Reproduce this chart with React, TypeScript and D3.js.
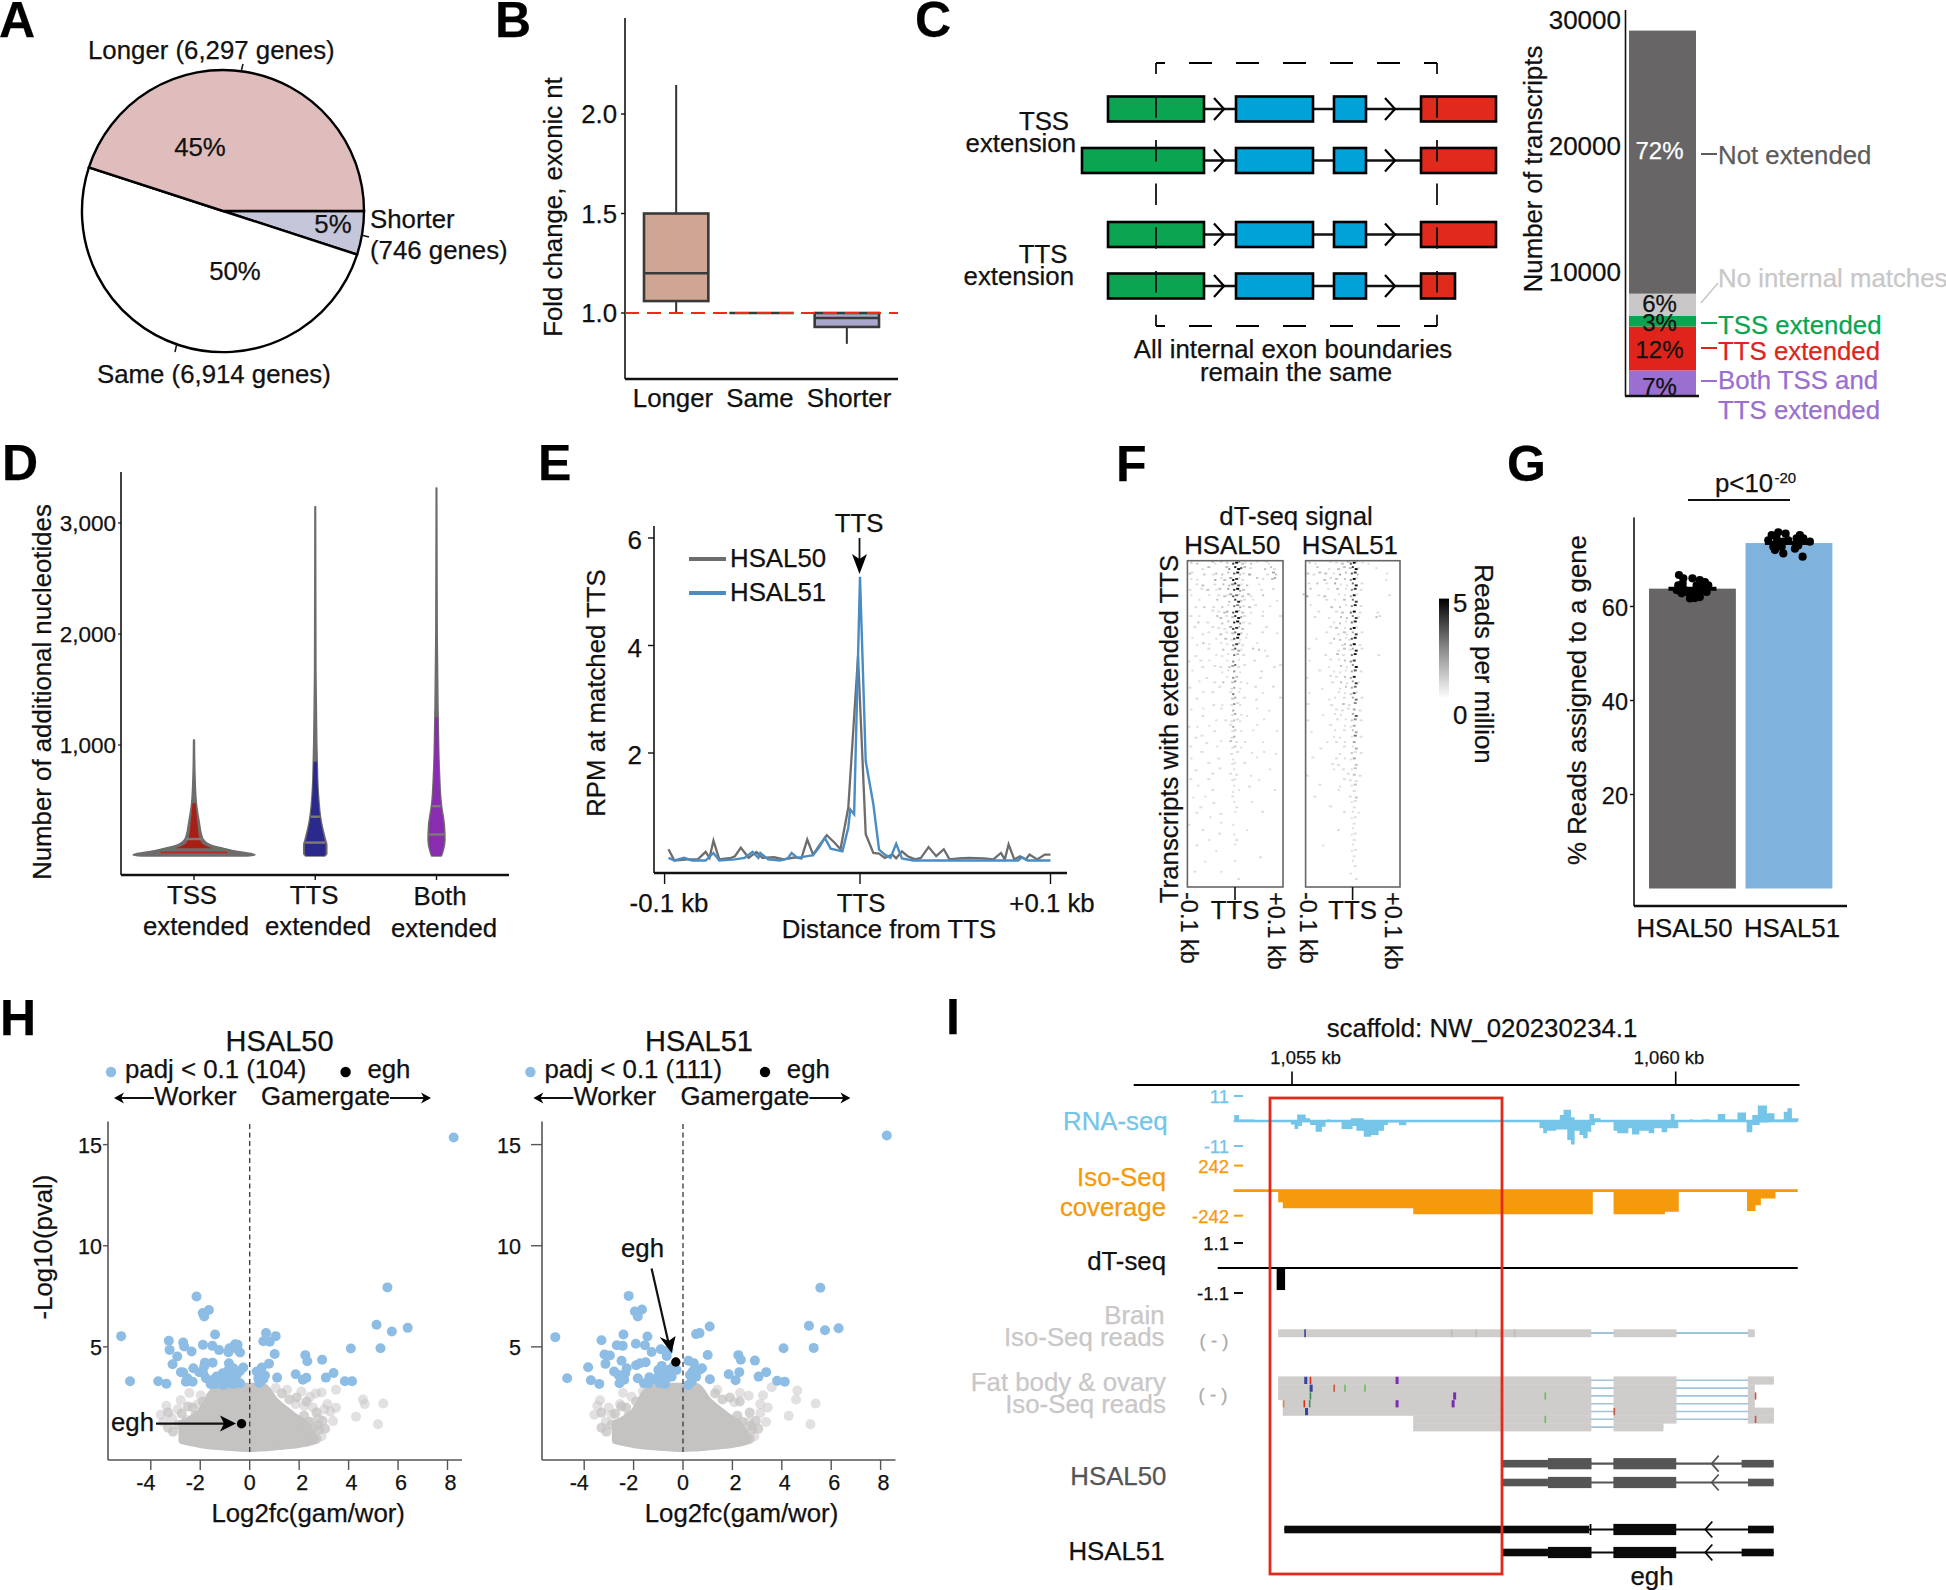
import React from 'react';
import * as d3 from 'd3';

const FONT = '"Liberation Sans", Arial, sans-serif';
const INK = '#111';
const GREY = '#676565';
const LIGHT = '#c9c7c7';
const GREEN = '#0ba552';
const BLUE = '#00a2d8';
const RED = '#df2a1c';
const PURPLE = '#9a6fcf';
const SKY = '#8dbde4';

// A: pie
const pieNames = ['Shorter', 'Same', 'Longer'];
const piePercent = [5, 50, 45];
const pieColors = ['#c6c6da', '#ffffff', '#dfbdbd'];

// B: box plot
const boxNames = ['Longer', 'Same', 'Shorter'];
const boxLow = [1.0, 1.0, 0.845];
const boxQ1 = [1.06, 1.0, 0.93];
const boxMedian = [1.2, 1.0, 0.975];
const boxQ3 = [1.5, 1.0, 1.0];
const boxHigh = [2.146, 1.0, 1.0];
const boxColors = ['#cfa593', '#8b8b8b', '#a9a8cc'];
const boxTicks = [1, 1.5, 2];

// C: exon schematic, in schematic units along the gene
const exonGreenLong = [26, 122];
const exonGreenExtended = [0, 122];
const exonBlue = [[154, 231], [252, 284]];
const exonRed = [339, 414];
const exonRedShort = [339, 373];
const schematicRows = [
  { name: 'r1', green: exonGreenLong, red: exonRed },
  { name: 'r2', green: exonGreenExtended, red: exonRed },
  { name: 'r3', green: exonGreenLong, red: exonRed },
  { name: 'r4', green: exonGreenLong, red: exonRedShort },
];
const schematicChevrons = [132, 303];

// C: stacked bar
const stackNames = ['Both', 'TTS', 'TSS', 'None', 'Not'];
const stackValues = [2030, 3480, 870, 1740, 20880];
const stackColors = [PURPLE, '#e0241b', GREEN, LIGHT, GREY];
const stackTicks = [10000, 20000, 30000];

// D: violins as value / density pairs
const violinValues = [
  [0, 10, 20, 39, 69, 100, 144, 200, 294, 475, 745, 1045],
  [0, 20, 100, 144, 310, 580, 850, 1045, 1650, 3147],
  [0, 30, 144, 280, 470, 745, 1250, 1345, 2000, 3315],
];
const violinDensity = [
  [0.85, 1, 0.95, 0.74, 0.49, 0.27, 0.16, 0.12, 0.09, 0.04, 0.016, 0.008],
  [0.16, 0.19, 0.19, 0.17, 0.1, 0.05, 0.033, 0.025, 0.012, 0.006],
  [0.08, 0.1, 0.14, 0.13, 0.08, 0.05, 0.028, 0.025, 0.012, 0.006],
];
const violinInner = [[69, 475], [0, 850], [0, 1250]];
const violinInnerScale = [0.62, 0.9, 0.9];
const violinQuartiles = [[33, 153], [121, 354], [194, 449]];
const violinFill = ['#a81f16', '#2b2a8c', '#8a2cb0'];
const violinTicks = [1000, 2000, 3000];

// E: metaplot
const gray50Bp = [-98, -95, -88, -83, -79, -77, -75, -72, -66, -64, -61, -57, -53, -50, -44, -39, -33, -30, -27, -24, -21, -17, -13, -10, -6, -1, 3, 7, 10, 13, 17, 19, 22, 25, 29, 32, 36, 40, 44, 47, 52, 57, 65, 70, 74, 76, 78, 81, 84, 87, 89, 93, 97, 100];
const gray50Rpm = [0.21, 0, 0.02, 0.02, 0.16, 0.05, 0.37, 0.02, 0.05, 0.08, 0.24, 0.05, 0.16, 0.05, 0.06, 0.02, 0.06, 0.04, 0.39, 0.11, 0.27, 0.47, 0.33, 0.21, 0.98, 3.8, 0.49, 0.14, 0.13, 0.05, 0.11, 0.04, 0.17, 0.08, 0.02, 0.05, 0.25, 0.08, 0.21, 0.02, 0.04, 0.05, 0.04, 0.02, 0.14, 0.02, 0.3, 0.02, 0.08, 0.02, 0.11, 0.02, 0.11, 0.11];
const blue51Bp = [-98, -95, -90, -86, -79, -75, -72, -64, -59, -55, -52, -51, -47, -41, -37, -35, -32, -24, -21, -18, -15, -9, -6, -5, -3, 0, 3, 7, 10, 13, 16, 19, 22, 28, 65, 83, 85, 88, 100];
const blue51Rpm = [0.05, 0, 0.05, 0, 0, 0.14, 0, 0.02, 0.05, 0.16, 0.05, 0.14, 0.02, 0, 0.04, 0.14, 0.05, 0.1, 0.24, 0.42, 0.22, 0.17, 0.61, 0.95, 0.86, 5.28, 1.85, 1.05, 0.2, 0.11, 0.05, 0.31, 0.04, 0, 0, 0, 0.06, 0, 0];
const rpmTicks = [2, 4, 6];

// F: dT-seq signal, binned by transcript row (top to bottom) and position; 0-9 intensity
const heatA = [
  '..2.2....21.2.2.79421.2.1..11...',
  '.....1.2.....24.8962.1....2.21..',
  '.21...2..12.2.2.6821.3.....1.32.',
  '..1.1.....3.12.39711....2.1..23.',
  '...1.2...1..2.24851.2...1.......',
  '.1...1.2..12..3.7932.....1...1..',
  '..1.....1..1.2136512.21...2.....',
  '....1.....2...2.7821..1.......1.',
  '...1..2..1..2.1.5431.2.1....1...',
  '.........1.1.23.6922..1...1.....',
  '.1..1.....22.1.27831.....1.....1',
  '....2..1....2.2.8941.1..........',
  '...1.....1.1.1.37722.......1....',
  '.....1.1...2.1.2592.1....1....1.',
  '..1.......1..2.1681.1...........',
  '....1.2.1...1.1.4721....1.......',
  '.......1....2..2631...2.2.1.....',
  '...1......1.1.1.52.1.......1....',
  '.1...1..1.....1.4.1....1........',
  '.....1...1.1..2351.1.........1.1',
  '..1.........1.1.4.1......1......',
  '.......1......1.42.......1......',
  '....1....1..2..24.1.1...........',
  '.1.........1...13.1....1.....1..',
  '......1..1.....15.1.......1.....',
  '...1...........23..1...1.......1',
  '.........1..1..1411.............',
  '..1...1.....1...3.......1...1...',
  '.....1.........13.1.1...........',
  '..........1..1.1211.......1.....',
  '.1..1...1......13.......1.......',
  '.........1.....12.1...1.......1.',
  '...1.1.........13...............',
  '.......1....1..2.1..1.....1.....',
  '.1........1....12.1.............',
  '.....1.........1.1....1...1...1.',
  '..1........1....1.......1.......',
  '.......1.......11..1............',
  '...1.......1....1...........1...',
  '.........1.....1.1....1.........',
  '.1.....1.......11.......1.......',
  '....1...........1....1..........',
  '.........1......1.1...........1.',
  '..1...1........1................',
  '.........1......1.....1.........',
  '.....1...........1..............',
  '...1.......1....1........1......',
  '........1.......................',
  '.1..........1...1...............',
  '.....1..............1...........',
  '...........1....1...............',
  '........1........1..............',
  '...1............1...............',
  '..........1.....................',
  '.........................1......',
  '......1.........1...............',
  '................................',
  '...1........1...................',
  '.................1..............',
  '................................',
];
const heatB = [
  '..2.1....1.1.2.2692.1.1.........',
  '....2...1..2.2.2791.....1.......',
  '.2.1.2.2..1.3.2.672.........1...',
  '.......2.1.2..2.491.........1...',
  '.1..2..1..3.1.1.58.1............',
  '..2.....1..2..1.47.1............',
  '23...1.2....1.1.381..........1..',
  '.......1..1..2..57..............',
  '..1......2..2.1.48.1............',
  '.....1.....1.2..59.1.....1......',
  '...1....1...2.2.471.....21......',
  '..........1.2.1.58..............',
  '.........1.2..1.691.............',
  '.......1...1.21.37.1............',
  '....1.....2.2.1168..............',
  '.........1...12.49.1............',
  '.1.........1.2.138.1............',
  '.......1...2.1..58.......1......',
  '..1......1..1.2.47..............',
  '........1...2.1.49..............',
  '.....1....1.1.1.36.1............',
  '.1.......1.1..2.38..............',
  '.........1..2.1.371.............',
  '......1.....1.2.35..............',
  '..1.........1.1.261.............',
  '........1.1..1..35.1............',
  '.1.......1...2.1.4..............',
  '...........1.1.1.3.1............',
  '......1...1.1...36..............',
  '.1.........1..1.24.1............',
  '.........1....1.13..............',
  '..1.......1..1..23..............',
  '..........1.1...15.1............',
  '........1..1..1..3..............',
  '.....1.......1..13..............',
  '............1...21.1............',
  '...1.......1..1.13..............',
  '.........1.1.....2..............',
  '..........1..1..12..............',
  '.1.............1.2.1............',
  '.............1.1.1..............',
  '.....1......1...12..............',
  '............1....1..............',
  '...1...........1.2..............',
  '................11..............',
  '.........1.......1..............',
  '.............1..1.1.............',
  '................11..............',
  '.................1..............',
  '...........1....1...............',
  '................11..............',
  '.................1..............',
  '......1.........1...............',
  '................11..............',
  '.................1..............',
  '................1...............',
  '.................1..............',
  '................1...............',
  '.................1..............',
  '................................',
];

// G: bars and replicates
const barNames = ['HSAL50', 'HSAL51'];
const barValues = [63.8, 73.5];
const barColors = [GREY, '#7fb2dd'];
const barTicks = [20, 40, 60];
const jitter50 = [-0.155, -0.105, -0.113, 0, 0.085, 0.144, 0.182, -0.182, -0.125, -0.067, -0.029, 0.029, 0.085, 0.163, 0.105, 0.048, -0.163, -0.105, -0.011, 0.125, 0.067];
const reads50 = [66.7, 66, 64.9, 66, 65.6, 65.2, 64.5, 63.5, 62.8, 63.1, 61.7, 61.8, 62, 63.1, 63.5, 64.5, 64.5, 63.8, 62.8, 64.2, 62.8];
const jitter51 = [-0.123, -0.038, -0.199, 0.126, -0.238, -0.142, -0.065, 0.088, 0.165, 0.241, -0.18, -0.084, -0.161, -0.065, 0.069, 0.107, 0.157, -0.008, -0.123];
const reads51 = [75.8, 75.5, 75.2, 75.2, 74.1, 74.5, 73.8, 74.5, 74.5, 73.8, 72.7, 72.7, 72, 71.3, 72.3, 73, 70.6, 74.1, 73.4];

// H: volcano plots, [log2fc, -log10 p]
const volcano50Blue = [
  [-5.2, 5.53], [-4.84, 3.3], [-3.7, 3.3], [-3.37, 3.18], [-3.27, 5.3], [-3.24, 4.85], [-2.93, 4.52], [-3.12, 4.14], [-2.69, 5.21], [-2.65, 5.02],
  [-2.35, 4.77], [-2.78, 3.75], [-2.69, 3.73], [-2.58, 3.28], [-2.52, 3.45], [-2.31, 3.28], [-2.28, 3.94], [-2.04, 3.75], [-2.15, 7.49], [-1.9, 6.67],
  [-1.65, 6.82], [-1.84, 6.5], [-1.4, 5.61], [-1.89, 5.1], [-1.51, 5.05], [-1.24, 4.84], [-0.86, 4.74], [-0.82, 4.93], [-0.59, 5.13], [-0.49, 5.1],
  [-0.5, 4.88], [-0.39, 4.72], [-1.5, 4.22], [-1.81, 4.22], [-1.84, 4.03], [-1.88, 3.7], [-1.77, 3.45], [-0.84, 4.19], [-0.66, 3.94], [-0.26, 3.98],
  [-0.39, 3.81], [-0.86, 3.86], [-1.09, 3.7], [-1.34, 3.53], [-1.47, 3.37], [-1.58, 3.17], [-1.4, 3.17], [-1.13, 3.28], [-0.93, 3.45], [-0.73, 3.61],
  [-0.53, 3.61], [-0.39, 3.2], [-0.66, 3.17], [-0.86, 3.2], [-0.59, 3.37], [-1.07, 3.12], [-1.27, 3.37], [0.66, 5.68], [1.05, 5.53], [0.55, 5.28],
  [0.81, 5.25], [1.01, 4.65], [0.78, 4.17], [0.49, 3.98], [0.28, 3.78], [0.42, 3.7], [0.62, 3.58], [0.35, 3.45], [0.55, 3.4], [0.39, 3.23],
  [1.11, 3.48], [1.86, 3.65], [2.15, 3.37], [2.29, 3.47], [2.25, 4.59], [2.33, 4.29], [2.93, 4.36], [3.08, 3.48], [3.39, 3.71], [3.85, 3.3],
  [4.14, 3.3], [4.09, 4.92], [5.29, 4.93], [5.13, 6.09], [5.75, 5.76], [5.57, 7.94], [6.39, 5.94], [8.25, 15.35],
];
const volcano51Blue = [
  [-5.17, 5.48], [-4.69, 3.45], [-3.84, 3.99], [-3.73, 3.35], [-3.39, 3.17], [-3.3, 5.33], [-3.18, 4.62], [-2.96, 4.57], [-3.14, 4.16], [-2.79, 3.78],
  [-2.68, 5.08], [-2.44, 5.05], [-2.41, 5.61], [-2.49, 4.31], [-2.28, 3.94], [-2.34, 3.7], [-2.61, 3.61], [-2.38, 3.37], [-2.57, 3.2], [-2.2, 7.52],
  [-1.95, 6.75], [-1.66, 6.85], [-1.83, 6.5], [-1.91, 5.15], [-1.54, 5.08], [-1.44, 5.51], [-1.27, 4.75], [-0.9, 4.88], [-0.59, 4.85], [-0.66, 4.55],
  [-1.9, 4.09], [-1.74, 4.19], [-1.51, 4.24], [-1.83, 3.45], [-1.36, 3.5], [-1.58, 3.2], [-1.4, 3.2], [-1.13, 3.37], [-0.86, 4.06], [-1, 3.86],
  [-0.79, 3.7], [-0.59, 3.86], [-0.39, 4.03], [-0.26, 3.86], [-0.66, 3.45], [-0.46, 3.53], [-0.93, 3.2], [-0.73, 3.17], [-1, 3.53], [0.22, 4.31],
  [0.44, 4.19], [0.77, 3.94], [0.39, 3.78], [0.66, 3.86], [0.28, 3.61], [0.53, 3.53], [0.22, 3.12], [0.35, 3.28], [1, 4.6], [0.53, 5.63],
  [0.67, 5.68], [1.08, 6.01], [1.09, 3.4], [1.85, 3.65], [2.28, 3.75], [2.13, 3.35], [2.24, 4.59], [2.34, 4.36], [2.91, 4.32], [3.06, 3.53],
  [3.37, 3.75], [3.81, 3.32], [4.12, 3.28], [4.07, 4.93], [5.29, 4.95], [5.1, 6.04], [5.75, 5.82], [6.3, 5.92], [5.56, 7.92], [8.25, 15.45],
];
const volcano50Grey = [
  [3.49, 2.88], [4.58, 2.4], [4.65, 2.17], [5.4, 2.2], [4.3, 1.55], [5.19, 1.17], [3.37, 1.33], [2.91, 2.74], [2.67, 2.7], [2.44, 2.53],
  [2.09, 2.79], [1.86, 2.17], [2.21, 2.08], [2.56, 2], [3.14, 2.17], [3.26, 1.8], [2.79, 1.47], [2.91, 0.58], [2.56, 1.29], [1.51, 2.88],
  [1.05, 2.97], [-2.44, 2.72], [-2.79, 2.36], [-3.37, 2.09], [-2.91, 1.91], [-3.6, 1.64], [-3.14, 1.47], [-2.56, 1.38], [-2.09, 2.17], [-1.98, 2.61],
  [-1.4, 2.8], [-2.44, 0.76], [-3.49, 1.29], [-2.67, 0.94], [3.02, 1.91], [2.56, 0.94], [3.49, 1.99],
];
const volcano51Grey = [
  [3.59, 3], [4.63, 2.84], [4.58, 2.4], [5.37, 2.2], [4.28, 1.59], [5.16, 1.17], [3.43, 2], [3.13, 2.17], [2.66, 2.58], [2.31, 2.72],
  [2.08, 2.26], [3.13, 1.73], [3.36, 1.29], [2.89, 0.58], [2.66, 1.29], [1.39, 2.88], [-2.43, 2.72], [-3.36, 2.36], [-3.47, 2.09], [-3.01, 2],
  [-3.59, 1.64], [-3.13, 1.29], [-2.55, 2.17], [-2.08, 2.53], [-1.62, 2.8], [-2.89, 1.64], [3.24, 2.61],
];
const volcanoEdgeGrey = [
  [-3.3, 1], [-3.1, 0.8], [-2.9, 1.15], [-2.75, 1.7], [-2.3, 2], [-2.2, 1.6], [-1.9, 2.3], [-1.75, 1.9], [-1.55, 2.6], [-3.3, 1.75], [-2.5, 2.05],
  [2.2, 1.6], [2.4, 1.3], [2.75, 1.1], [2.7, 1.75], [2.95, 1.35], [1.9, 2.5], [2.3, 2.3], [1.6, 2.4], [1.3, 2.7], [2.8, 0.9], [2.7, 0.45], [3.05, 0.95],
];
const massFc = [-2.7, -2, -1.3, -0.5, 0, 0.5, 1, 1.7, 2.4, 2.6];
const massTop = [1.2, 1.7, 2.9, 3, 3, 3, 2.3, 1.6, 0.9, 0.45];
const massBottom = [0.4, 0.22, 0.12, 0.05, 0.02, 0.05, 0.1, 0.18, 0.32, 0.4];
const eghPoint50 = [-0.33, 1.2];
const eghPoint51 = [-0.29, 4.25];
const volcanoXTicks = [-4, -2, 0, 2, 4, 6, 8];
const volcanoYTicks = [5, 10, 15];

// I: browser tracks, genomic position in kb
const rnaMinus = [
  [1054.985, -1.5], [1055.033, -3.5], [1055.082, -2.2], [1055.13, -0.6], [1055.236, -1.8], [1055.308, -4.7], [1055.39, -2.5], [1055.438, -0.3], [1055.646, -3.5], [1055.79, -2.2],
  [1055.839, -4.3], [1055.935, -6.9], [1056.031, -6.2], [1056.128, -4.3], [1056.2, -1.8], [1056.249, -0.7], [1056.393, -1.9], [1056.49, 0], [1058.225, -3.2], [1058.274, -5.4],
  [1058.322, -4.3], [1058.442, -3.7], [1058.587, -8.4], [1058.635, -10.3], [1058.683, -4.3], [1058.746, -6.2], [1058.794, -7.6], [1058.852, -4.7], [1058.9, -1.8], [1058.949, 0],
  [1059.19, -4.3], [1059.238, -5.4], [1059.383, -3.2], [1059.431, -5.9], [1059.527, -4.3], [1059.648, -5.4], [1059.72, -3.2], [1059.817, -5], [1059.889, -3.2], [1060.034, 0],
  [1060.925, -5], [1060.998, -1.8], [1061.094, -0.7], [1061.215, 0], [1061.6, 0],
];
const rnaPlus = [
  [1054.248, 2.6], [1054.31, 0.7], [1054.513, 0], [1055.067, 2.9], [1055.178, 1.2], [1055.236, 0], [1055.453, 0.7], [1055.501, 0], [1055.766, 1.2], [1055.935, 0],
  [1058.49, 2.6], [1058.539, 4.9], [1058.635, 1.6], [1058.683, 0], [1058.876, 3.1], [1058.934, 1.2], [1059.02, 0], [1059.937, 3.1], [1059.985, 0], [1060.178, 0.7],
  [1060.226, 0], [1060.347, 0.7], [1060.443, 0], [1060.549, 3.1], [1060.646, 0.7], [1060.805, 3.7], [1060.916, 0], [1060.998, 2.6], [1061.07, 6.8], [1061.19, 3.4],
  [1061.287, 0.7], [1061.408, 4.1], [1061.456, 5.6], [1061.514, 1.2], [1061.6, 0],
];
const isoCoverage = [
  [1054.82, -113], [1054.88, -171], [1056.58, -229], [1058.92, 0], [1059.19, -229], [1059.86, -204], [1060.04, 0],
  [1060.93, -196], [1061.04, -142], [1061.11, -76], [1061.3, 0], [1061.59, 0],
];
const dtSeqBars = [[1054.8, 1054.91, -0.97]];
const brainExons = [[1054.82, 1058.9], [1059.19, 1060.01], [1060.94, 1061.03]];
const brainMarks = [[1055.16, '#33449a'], [1057.07, '#bbb'], [1057.39, '#bbb'], [1057.89, '#bbb']];
const fatReads = [
  [[1054.82, 1058.9], [1059.19, 1060.01], [1060.94, 1061.28]],
  [[1054.82, 1058.9], [1059.19, 1060.01], [1060.94, 1061.03]],
  [[1054.82, 1058.9], [1059.19, 1060.01], [1060.94, 1061.03]],
  [[1054.88, 1058.9], [1059.19, 1060.01], [1060.94, 1061.03]],
  [[1054.88, 1058.9], [1059.19, 1060.01], [1060.94, 1061.28]],
  [[1056.58, 1058.9], [1059.19, 1060.01], [1060.94, 1061.28]],
  [[1056.58, 1058.9], [1059.19, 1059.84]],
];
const fatMarks = [
  [1055.16, 0, '#33449a'], [1055.23, 0, RED], [1055.23, 1, '#33449a'], [1056.35, 0, '#7b2fb0'], [1055.54, 1, '#c8553d'], [1055.68, 1, '#6cbf5a'], [1055.94, 1, '#6cbf5a'],
  [1055.23, 2, '#3a8a5a'], [1057.1, 2, '#7b2fb0'], [1058.29, 2, '#6cbf5a'], [1054.88, 3, '#d98a4a'], [1055.15, 3, RED], [1055.22, 3, '#3a8a5a'], [1056.35, 3, '#7b2fb0'],
  [1057.08, 3, '#7b2fb0'], [1055.17, 4, '#33449a'], [1059.19, 4, '#c8553d'], [1058.29, 5, '#6cbf5a'], [1061.03, 2, '#c8553d'], [1061.03, 5, '#c8553d'],
];
const geneModels50 = [
  { thin: [[1057.733, 1058.335], [1060.859, 1061.277]], thick: [[1058.335, 1058.903], [1059.188, 1060.007]], span: [1057.733, 1061.277], chevron: 1060.508 },
  { thin: [[1057.733, 1058.335], [1060.943, 1061.277]], thick: [[1058.335, 1058.903], [1059.188, 1060.007]], span: [1057.733, 1061.277], chevron: 1060.508 },
];
const geneModels51 = [
  { thin: [[1054.9, 1058.87], [1060.943, 1061.277]], thick: [[1059.188, 1060.007]], span: [1054.9, 1061.277], chevron: 1060.425 },
  { thin: [[1057.733, 1058.335], [1060.859, 1061.277]], thick: [[1058.335, 1058.903], [1059.188, 1060.007]], span: [1057.733, 1061.277], chevron: 1060.425 },
];

const T = ({ x, y, size = 25.8, anchor = 'start', fill = INK, rot, weight, children }: any) => (
  <text
    transform={rot === undefined ? undefined : `translate(${x},${y}) rotate(${rot})`}
    x={rot === undefined ? x : 0}
    y={rot === undefined ? y : 0}
    fontFamily={FONT}
    fontSize={size}
    fontWeight={weight}
    textAnchor={anchor}
    fill={fill}
    stroke={fill}
    strokeWidth={0.25}
  >
    {children}
  </text>
);

const L = ({ x1, y1, x2, y2, c = INK, w = 2, dash, offset }: any) => (
  <line x1={x1} y1={y1} x2={x2} y2={y2} stroke={c} strokeWidth={w} strokeDasharray={dash} strokeDashoffset={offset} />
);

const PanelA = () => {
  const cx = 223;
  const cy = 211;
  const r = 141;
  const pie = d3.pie<number>().sort(null).startAngle(Math.PI / 2).endAngle(Math.PI * 2.5)(piePercent);
  const arc = d3.arc<any>().innerRadius(0).outerRadius(r);
  return (
    <g>
      <g transform={`translate(${cx},${cy})`}>
        {pie.map((s, i) => (
          <path key={pieNames[i]} d={arc(s) as string} fill={pieColors[i]} stroke="#000" strokeWidth={2.4} />
        ))}
      </g>
      <L x1={243} y1={64} x2={241} y2={72} w={1.5} />
      <L x1={361} y1={235} x2={369} y2={237} w={1.5} />
      <L x1={177} y1={343} x2={175} y2={352} w={1.5} />
      <T x={88} y={59}>Longer (6,297 genes)</T>
      <T x={200} y={156} anchor="middle">45%</T>
      <T x={333} y={233} anchor="middle">5%</T>
      <T x={235} y={280} anchor="middle">50%</T>
      <T x={370} y={228}>Shorter</T>
      <T x={370} y={259}>(746 genes)</T>
      <T x={97} y={383}>Same (6,914 genes)</T>
    </g>
  );
};

const PanelB = () => {
  const y = d3.scaleLinear().domain([1, 2]).range([313, 114]);
  const x = d3.scaleBand().domain(boxNames).range([623, 900]).padding(0.246);
  return (
    <g>
      <L x1={625} y1={18} x2={625} y2={379} w={1.6} />
      <L x1={625} y1={379} x2={898} y2={379} w={2.4} />
      {boxTicks.map((t) => (
        <g key={t}>
          <L x1={621} x2={625} y1={y(t)} y2={y(t)} w={1.4} />
          <T x={617} y={y(t) + 9} anchor="end">{t.toFixed(1)}</T>
        </g>
      ))}
      {boxNames.map((n, i) => {
        const x0 = x(n) as number;
        const w = x.bandwidth();
        const cx = x0 + w / 2;
        return (
          <g key={n}>
            <L x1={cx} x2={cx} y1={y(boxHigh[i])} y2={y(boxLow[i])} c="#333" />
            <rect x={x0} width={w} y={y(boxQ3[i])} height={y(boxQ1[i]) - y(boxQ3[i])} fill={boxColors[i]} stroke="#3a3a3a" strokeWidth={2.6} />
            <L x1={x0} x2={x0 + w} y1={y(boxMedian[i])} y2={y(boxMedian[i])} c="#3a3a3a" w={2.6} />
          </g>
        );
      })}
      <L x1={625} x2={898} y1={y(1)} y2={y(1)} c="#ee2a20" w={2} dash="14 8" />
      <T x={673} y={407} anchor="middle">Longer</T>
      <T x={760} y={407} anchor="middle">Same</T>
      <T x={849} y={407} anchor="middle">Shorter</T>
      <T x={562} y={207} rot={-90} anchor="middle">Fold change, exonic nt</T>
    </g>
  );
};

const PanelC = () => {
  const x = d3.scaleLinear().domain([0, 414]).range([1082, 1496]);
  const rowY = d3.scaleOrdinal<string, number>().domain(schematicRows.map((r) => r.name)).range([109, 160.5, 234.5, 286]);
  const h = 25;
  const chev = d3.line();
  const y = d3.scaleLinear().domain([0, 30000]).range([396, 18]);
  const stack = d3.cumsum(stackValues);
  const lineX = [1156, 1437];
  const pct = [
    { t: '72%', y: 159, c: '#fff' },
    { t: '6%', y: 312, c: INK },
    { t: '3%', y: 331, c: INK },
    { t: '12%', y: 358, c: INK },
    { t: '7%', y: 395, c: INK },
  ];
  const legend = [
    { t: 'Not extended', y: 164, c: '#5d5b5b', dash: 154 },
    { t: 'TSS extended', y: 334, c: GREEN, dash: 323 },
    { t: 'TTS extended', y: 360, c: '#e0241b', dash: 348 },
    { t: 'Both TSS and', y: 389, c: PURPLE, dash: 381 },
  ];
  return (
    <g>
      {schematicRows.map((r) => {
        const cy = rowY(r.name);
        const box = (e: number[], fill: string, k: string) => (
          <rect key={k} x={x(e[0])} width={x(e[1]) - x(e[0])} y={cy - h / 2} height={h} fill={fill} stroke="#000" strokeWidth={2.6} />
        );
        return (
          <g key={r.name}>
            <L x1={x(122)} x2={x(339)} y1={cy} y2={cy} w={2.6} />
            {schematicChevrons.map((c) => (
              <path key={c} d={chev([[x(c), cy - 11], [x(c + 10), cy], [x(c), cy + 11]]) as string} fill="none" stroke="#000" strokeWidth={2.2} />
            ))}
            {box(r.green, GREEN, 'g')}
            {exonBlue.map((e, i) => box(e, BLUE, `b${i}`))}
            {box(r.red, RED, 'r')}
          </g>
        );
      })}
      {lineX.map((lx) => (
        <L key={lx} x1={lx} x2={lx} y1={63} y2={326} w={1.8} dash="21.5 22.2" offset={10.5} />
      ))}
      {[63, 326].map((ly) => (
        <path key={ly} d={`M1156,${ly}H1437`} stroke="#000" strokeWidth={2} fill="none" strokeDasharray="23 24" strokeDashoffset={14} />
      ))}
      <T x={1044} y={130} anchor="middle">TSS</T>
      <T x={1076} y={152} anchor="end">extension</T>
      <T x={1043} y={263} anchor="middle">TTS</T>
      <T x={1074} y={285} anchor="end">extension</T>
      <T x={1293} y={358} anchor="middle">All internal exon boundaries</T>
      <T x={1296} y={381} anchor="middle">remain the same</T>

      {stackValues.map((v, i) => (
        <rect key={stackNames[i]} x={1629} width={67} y={y(stack[i])} height={y(stack[i] - v) - y(stack[i])} fill={stackColors[i]} />
      ))}
      <L x1={1625.5} x2={1625.5} y1={10} y2={396} w={1.6} />
      <L x1={1625} x2={1699} y1={396} y2={396} w={2.4} />
      {stackTicks.map((t) => (
        <T key={t} x={1621} y={y(t) + 11} anchor="end" size={26}>{t}</T>
      ))}
      {pct.map((p) => (
        <T key={p.t} x={1659.5} y={p.y} anchor="middle" fill={p.c} size={24}>{p.t}</T>
      ))}
      {legend.map((l) => (
        <g key={l.t}>
          <L x1={1701} x2={1717} y1={l.dash} y2={l.dash} c={l.c} w={2} />
          <T x={1718} y={l.y} fill={l.c}>{l.t}</T>
        </g>
      ))}
      <L x1={1701} y1={303} x2={1718} y2={283} c={LIGHT} w={1.6} />
      <T x={1718} y={287} fill={LIGHT}>No internal matches</T>
      <T x={1718} y={419} fill={PURPLE}>TTS extended</T>
      <T x={1542} y={169} rot={-90} anchor="middle">Number of transcripts</T>
    </g>
  );
};

const PanelD = () => {
  const y = d3.scaleLinear().domain([0, 1000]).range([856, 745]);
  const w = d3.scaleLinear().domain([0, 1]).range([0, 61]);
  const x = d3.scalePoint<string>().domain(['TSS', 'TTS', 'Both']).range([194, 436.5]);
  const names = x.domain();
  return (
    <g>
      {names.map((n, i) => {
        const cx = x(n) as number;
        const pts = violinValues[i].map((v, k) => [v, w(violinDensity[i][k])]);
        const outer = d3.area<number[]>().curve(d3.curveMonotoneY).y((d) => y(d[0])).x0((d) => cx - d[1]).x1((d) => cx + d[1]);
        const inner = d3.area<number[]>().curve(d3.curveMonotoneY).y((d) => y(d[0]))
          .x0((d) => cx - Math.max(d[1] * violinInnerScale[i], 0.4))
          .x1((d) => cx + Math.max(d[1] * violinInnerScale[i], 0.4));
        const [lo, hi] = violinInner[i];
        const widthAt = (v: number) => w(d3.scaleLinear().domain(violinValues[i]).range(violinDensity[i])(v));
        return (
          <g key={n}>
            <path d={outer(pts) as string} fill="#6f6c6c" stroke="#6f6c6c" strokeWidth={1.4} strokeLinejoin="round" />
            <path d={inner(pts.filter((p) => p[0] >= lo && p[0] <= hi)) as string} fill={violinFill[i]} />
            {violinQuartiles[i].map((q, k) => (
              <L key={q} x1={cx - widthAt(q) * (i === 0 && k === 0 ? 0.7 : 1) + 1} x2={cx + widthAt(q) * (i === 0 && k === 0 ? 0.7 : 1) - 1} y1={y(q)} y2={y(q)} c={i === 0 && k === 0 ? '#b32a20' : '#7d7a7a'} w={i === 0 && k === 0 ? 1.6 : 2.4} />
            ))}
          </g>
        );
      })}
      <L x1={121} x2={121} y1={472} y2={875} w={1.6} />
      <L x1={121} x2={509} y1={875} y2={875} w={2.4} />
      {names.map((n) => (
        <L key={n} x1={x(n)} x2={x(n)} y1={875} y2={880} w={1.4} />
      ))}
      {violinTicks.map((t) => (
        <g key={t}>
          <L x1={118} x2={121} y1={y(t)} y2={y(t)} w={1.2} />
          <T x={116} y={y(t) + 8} anchor="end" size={22.5}>{d3.format(',')(t)}</T>
        </g>
      ))}
      <T x={192} y={904} anchor="middle">TSS</T>
      <T x={196} y={935} anchor="middle">extended</T>
      <T x={314} y={904} anchor="middle">TTS</T>
      <T x={318} y={935} anchor="middle">extended</T>
      <T x={440} y={905} anchor="middle">Both</T>
      <T x={444} y={937} anchor="middle">extended</T>
      <T x={51} y={692} rot={-90} anchor="middle">Number of additional nucleotides</T>
    </g>
  );
};

const PanelE = () => {
  const x = d3.scaleLinear().domain([-100, 0, 100]).range([664.6, 860, 1050.5]);
  const y = d3.scaleLinear().domain([0, 6]).range([860.5, 538]);
  const grey = gray50Bp.map((b, i) => [x(b), y(gray50Rpm[i])]);
  const blue = blue51Bp.map((b, i) => [x(b), y(blue51Rpm[i])]);
  return (
    <g>
      <path d={d3.line()(grey as any) as string} fill="none" stroke="#6f6c6c" strokeWidth={2.3} />
      <path d={d3.line()(blue as any) as string} fill="none" stroke="#4a8cc4" strokeWidth={2.4} />
      <L x1={654} x2={654} y1={526} y2={873} w={1.6} />
      <L x1={654} x2={1067} y1={873} y2={873} w={2.4} />
      {rpmTicks.map((t) => (
        <g key={t}>
          <L x1={648} x2={654} y1={y(t)} y2={y(t)} w={1.4} />
          <T x={642} y={y(t) + 11} anchor="end" size={26}>{t}</T>
        </g>
      ))}
      {[-100, 0, 100].map((t) => (
        <L key={t} x1={x(t)} x2={x(t)} y1={873} y2={884} w={1.4} />
      ))}
      <L x1={689} x2={726} y1={559} y2={559} c="#6f6c6c" w={4} />
      <L x1={689} x2={726} y1={593} y2={593} c="#4a8cc4" w={4} />
      <T x={730} y={567}>HSAL50</T>
      <T x={730} y={601}>HSAL51</T>
      <T x={859} y={532} anchor="middle">TTS</T>
      <L x1={859.5} x2={859.5} y1={538} y2={560} w={1.8} />
      <path d={d3.line()([[859.5, 574], [852, 554], [859.5, 559], [867, 554]]) as string} fill="#000" />
      <T x={669} y={912} anchor="middle">-0.1 kb</T>
      <T x={861} y={912} anchor="middle">TTS</T>
      <T x={1052} y={912} anchor="middle">+0.1 kb</T>
      <T x={889} y={938} anchor="middle">Distance from TTS</T>
      <T x={605} y={693} rot={-90} anchor="middle">RPM at matched TTS</T>
    </g>
  );
};

const Heat = ({ rows, x0, x1 }: any) => {
  const top = 560.7;
  const bottom = 887;
  const y = d3.scaleBand<number>().domain(d3.range(rows.length)).range([top, bottom]);
  const x = d3.scaleBand<number>().domain(d3.range(32)).range([x0, x1]);
  const shade = d3.scaleLinear<string>().domain([0, 1, 9]).range(['#ffffff', '#dddddd', '#000000']);
  return (
    <g>
      {rows.map((row: string, r: number) =>
        row.split('').map((ch, c) =>
          ch === '.' ? null : (
            <rect
              key={`${r}-${c}`}
              x={(x(c) as number) - 3 + ((r * 5 + c * 3) % 3)}
              y={(y(r) as number) + ((r + c * 2) % 3)}
              width={x.bandwidth() * (c % 2 ? 1 : 0.7)}
              height={1.9}
              fill={shade(+ch)}
            />
          ),
        ),
      )}
      <rect x={x0} y={top} width={x1 - x0} height={bottom - top} fill="none" stroke="#666" strokeWidth={1.6} />
    </g>
  );
};

const PanelF = () => {
  const panels = [
    { name: 'HSAL50', rows: heatA, x0: 1187.4, x1: 1283, tts: 1235 },
    { name: 'HSAL51', rows: heatB, x0: 1305.6, x1: 1400, tts: 1352.6 },
  ];
  return (
    <g>
      <defs>
        <linearGradient id="rpmGradient" x1="0" x2="0" y1="0" y2="1">
          <stop offset="0" stopColor="#000" />
          <stop offset="0.5" stopColor="#8a8a8a" />
          <stop offset="1" stopColor="#fff" />
        </linearGradient>
      </defs>
      {panels.map((p) => (
        <g key={p.name}>
          <Heat rows={p.rows} x0={p.x0} x1={p.x1} />
          <L x1={p.tts} x2={p.tts} y1={887} y2={900} w={1.6} />
          <T x={p.tts} y={919} anchor="middle">TTS</T>
          <T x={(p.x0 + p.x1) / 2 - 3} y={554} anchor="middle">{p.name}</T>
          <T x={p.x0 - 6} y={892} rot={90} size={23.5}>-0.1 kb</T>
          <T x={p.x1 - 15} y={892} rot={90} size={23.5}>+0.1 kb</T>
        </g>
      ))}
      <T x={1296} y={525} anchor="middle">dT-seq signal</T>
      <T x={1178} y={729} rot={-90} anchor="middle">Transcripts with extended TTS</T>
      <rect x={1439} y={598.6} width={10} height={100} fill="url(#rpmGradient)" />
      <T x={1453} y={612}>5</T>
      <T x={1453} y={724}>0</T>
      <T x={1475} y={664} rot={90} anchor="middle">Reads per million</T>
    </g>
  );
};

const PanelG = () => {
  const y = d3.scaleLinear().domain([0, 80]).range([888.5, 512.5]);
  const x = d3.scaleBand().domain(barNames).range([1644.2, 1837.2]).paddingInner(0.1).paddingOuter(0.05);
  const dots = [
    { j: jitter50, v: reads50 },
    { j: jitter51, v: reads51 },
  ];
  return (
    <g>
      {barNames.map((n, i) => {
        const bx = x(n) as number;
        const cx = bx + x.bandwidth() / 2;
        return (
          <g key={n}>
            <rect x={bx} width={x.bandwidth()} y={y(barValues[i])} height={y(0) - y(barValues[i])} fill={barColors[i]} />
            <L x1={cx - 24} x2={cx + 24} y1={y(barValues[i])} y2={y(barValues[i])} c="#000" w={4} />
            {dots[i].v.map((v, k) => (
              <circle key={k} cx={cx + dots[i].j[k] * x.bandwidth()} cy={y(v)} r={4.1} fill="#000" />
            ))}
            <T x={cx - 8 * (i === 0 ? 1 : 0) + 3 * i} y={937} anchor="middle">{n}</T>
          </g>
        );
      })}
      <L x1={1634} x2={1634} y1={517.6} y2={906} w={1.6} />
      <L x1={1634} x2={1847} y1={906} y2={906} w={2.4} />
      {barTicks.map((t) => (
        <g key={t}>
          <L x1={1630} x2={1634} y1={y(t)} y2={y(t)} w={1.4} />
          <T x={1628} y={y(t) + 9} anchor="end" size={23.5}>{t}</T>
        </g>
      ))}
      <L x1={1688} x2={1790} y1={500} y2={500} w={2.2} />
      <T x={1715} y={492}>p&lt;10</T>
      <T x={1774.5} y={483} size={15}>-20</T>
      <T x={1586} y={700} rot={-90} anchor="middle">% Reads assigned to a gene</T>
    </g>
  );
};

const Volcano = ({ title, count, xZero, xEight, yAxisX, xEnd, blue, grey, egh, off, tickLeft, labelRight, arrow }: any) => {
  const x = d3.scaleLinear().domain([0, 8]).range([xZero, xEight]);
  const y = d3.scaleLinear().domain([0, 15]).range([1448, 1144.6]);
  const mass = d3.area<number>().curve(d3.curveMonotoneX).x((d) => x(d)).y0((_, i) => y(massBottom[i])).y1((_, i) => y(massTop[i]));
  return (
    <g>
      {grey.map((d: number[], i: number) => (
        <circle key={i} cx={x(d[0])} cy={y(d[1])} r={5} fill="#c5c2c2" opacity={0.5} />
      ))}
      {volcanoEdgeGrey.map((d, i) => (
        <circle key={i} cx={x(d[0])} cy={y(d[1])} r={5} fill="#c5c2c2" opacity={0.75} />
      ))}
      <path d={mass(massFc) as string} fill="#c5c2c2" stroke="#c5c2c2" strokeWidth={9} strokeLinejoin="round" />
      {blue.map((d: number[], i: number) => (
        <circle key={i} cx={x(d[0])} cy={y(d[1])} r={5} fill={SKY} />
      ))}
      <L x1={xZero} x2={xZero} y1={1124} y2={1454} c="#444" w={1.4} dash="5 3.5" />
      <circle cx={x(egh[0])} cy={y(egh[1])} r={4.7} fill="#000" />
      <L x1={yAxisX} x2={yAxisX} y1={1121.4} y2={1460} c="#555" w={1.6} />
      <L x1={yAxisX} x2={xEnd} y1={1460} y2={1460} c="#555" w={1.6} />
      {volcanoYTicks.map((t) => (
        <g key={t}>
          <L x1={tickLeft} x2={yAxisX} y1={y(t)} y2={y(t)} c="#555" w={1.4} />
          <T x={labelRight} y={y(t) + 8} anchor="end" size={21.5}>{t}</T>
        </g>
      ))}
      {volcanoXTicks.map((t) => (
        <g key={t}>
          <L x1={x(t)} x2={x(t)} y1={1460} y2={1470} c="#555" w={1.4} />
          <T x={x(t) + (t < 0 ? -5 : t > 0 ? 3 : 0)} y={1490} anchor="middle" size={21.5}>{t}</T>
        </g>
      ))}
      <T x={off + 270.6} y={1051} anchor="middle" size={29}>{title}</T>
      <circle cx={off + 102} cy={1072} r={5.2} fill={SKY} />
      <T x={off + 116} y={1078}>{`padj < 0.1 (${count})`}</T>
      <circle cx={off + 336.6} cy={1072} r={5.2} fill="#000" />
      <T x={off + 358.4} y={1078}>egh</T>
      <T x={off + 145} y={1105}>Worker</T>
      <T x={off + 252} y={1105}>Gamergate</T>
      <L x1={off + 110} x2={off + 145} y1={1098} y2={1098} w={1.8} />
      <path d={`M${off + 105},1098l10,-5.5l-3,5.5l3,5.5z`} fill="#000" />
      <L x1={off + 381} x2={off + 418} y1={1098} y2={1098} w={1.8} />
      <path d={`M${off + 422},1098l-10,-5.5l3,5.5l-3,5.5z`} fill="#000" />
      <T x={xZero + 58.5} y={1522} anchor="middle">Log2fc(gam/wor)</T>
      {arrow}
    </g>
  );
};

const PanelH = () => (
  <g>
    <Volcano
      title="HSAL50" count={104} xZero={249.7} xEight={447.5} yAxisX={108} xEnd={462} off={9}
      blue={volcano50Blue} grey={volcano50Grey} egh={eghPoint50} tickLeft={103} labelRight={102}
      arrow={
        <g>
          <T x={111} y={1431}>egh</T>
          <L x1={156} x2={228} y1={1423.6} y2={1423.6} w={2.2} />
          <path d="M236,1423.6l-16,-8l4,8l-4,8z" fill="#000" />
        </g>
      }
    />
    <Volcano
      title="HSAL51" count={111} xZero={683} xEight={880.6} yAxisX={542} xEnd={895.5} off={428.4}
      blue={volcano51Blue} grey={volcano51Grey} egh={eghPoint51} tickLeft={531} labelRight={521}
      arrow={
        <g>
          <T x={621} y={1257}>egh</T>
          <L x1={651.6} x2={669} y1={1268.6} y2={1345} w={2.2} />
          <path d="M671.6,1353l-12,-16l9,4l7,-5z" fill="#000" />
        </g>
      }
    />
    <T x={52} y={1247} rot={-90} anchor="middle">-Log10(pval)</T>
  </g>
);

const PanelI = () => {
  const x = d3.scaleLinear().domain([1055, 1060]).range([1292, 1675.7]);
  const rnaY = d3.scaleLinear().domain([-11, 11]).range([1146, 1096]);
  const isoY = d3.scaleLinear().domain([-242, 242]).range([1215.7, 1165.6]);
  const dtY = d3.scaleLinear().domain([-1.1, 1.1]).range([1293, 1243]);
  const rnaArea = d3.area<number[]>().curve(d3.curveStepAfter).x((d) => x(d[0])).y0(rnaY(0)).y1((d) => rnaY(d[1]));
  const isoArea = d3.area<number[]>().curve(d3.curveStepAfter).x((d) => x(d[0])).y0(isoY(0)).y1((d) => isoY(d[1]));
  const fatY = d3.scaleBand<number>().domain(d3.range(fatReads.length)).range([1376.4, 1431]);
  const RNA = '#74c5e8';
  const ORANGE = '#f59a0c';
  const READ = '#cfcccc';
  const INTRON = '#9fc3d8';
  const trackTick = (t: string, ty: number, c: string, w = 2) => (
    <g key={t}>
      <L x1={1234} x2={1243} y1={ty} y2={ty} c={c} w={w} />
      <T x={1229} y={ty + 7} anchor="end" size={18.5} fill={c}>{t}</T>
    </g>
  );
  const gene = (m: any, cy: number, c: string) => (
    <g key={cy}>
      <L x1={x(m.span[0])} x2={x(m.span[1])} y1={cy} y2={cy} c={c} w={2.2} />
      {m.thin.map((e: number[]) => <rect key={e[0]} x={x(e[0])} width={x(e[1]) - x(e[0])} y={cy - 3.8} height={7.6} fill={c} />)}
      {m.thick.map((e: number[]) => <rect key={e[0]} x={x(e[0])} width={x(e[1]) - x(e[0])} y={cy - 5.6} height={11.2} fill={c} />)}
      <path d={`M${x(m.chevron) + 4},${cy - 8}l-7,8l7,8`} fill="none" stroke={c} strokeWidth={1.8} />
    </g>
  );
  return (
    <g>
      <T x={1482} y={1037} anchor="middle" size={25.8}>scaffold: NW_020230234.1</T>
      <L x1={1133.7} x2={1799.5} y1={1085} y2={1085} c="#000" w={2.2} />
      {[1055, 1060].map((k) => (
        <g key={k}>
          <L x1={x(k)} x2={x(k)} y1={1071.5} y2={1085} c="#000" w={1.6} />
          <T x={x(k) + (k === 1055 ? 13.6 : -6.7)} y={1064} anchor="middle" size={18.4}>{`${d3.format(',')(k)} kb`}</T>
        </g>
      ))}

      <T x={1167.7} y={1130} anchor="end" fill={RNA}>RNA-seq</T>
      {trackTick('11', 1096, RNA)}
      {trackTick('-11', 1146, RNA)}
      <path d={rnaArea(rnaPlus) as string} fill={RNA} />
      <path d={rnaArea(rnaMinus) as string} fill={RNA} />
      <L x1={x(1054.24)} x2={x(1061.59)} y1={rnaY(0)} y2={rnaY(0)} c={RNA} w={2.4} />

      <T x={1166} y={1185.5} anchor="end" fill={ORANGE}>Iso-Seq</T>
      <T x={1166} y={1216.4} anchor="end" fill={ORANGE}>coverage</T>
      {trackTick('242', 1165.6, ORANGE)}
      {trackTick('-242', 1215.7, ORANGE)}
      <path d={isoArea(isoCoverage) as string} fill={ORANGE} />
      <L x1={x(1054.24)} x2={x(1061.59)} y1={isoY(0)} y2={isoY(0)} c={ORANGE} w={2.6} />

      <T x={1166} y={1270} anchor="end">dT-seq</T>
      {trackTick('1.1', 1243, INK)}
      {trackTick('-1.1', 1293, INK)}
      <L x1={1217.7} x2={x(1061.59)} y1={dtY(0)} y2={dtY(0)} c="#000" w={2} />
      {dtSeqBars.map((b) => (
        <rect key={b[0]} x={x(b[0])} width={x(b[1]) - x(b[0])} y={dtY(0)} height={dtY(b[2]) - dtY(0)} fill="#000" />
      ))}

      <T x={1164.5} y={1324} anchor="end" fill={LIGHT}>Brain</T>
      <T x={1164.5} y={1346} anchor="end" fill={LIGHT}>Iso-Seq reads</T>
      <T x={1214} y={1347} anchor="middle" size={18.5} fill="#aaa">( - )</T>
      <L x1={x(1054.82)} x2={x(1061.03)} y1={1333} y2={1333} c={INTRON} w={2} />
      {brainExons.map((e) => (
        <rect key={e[0]} x={x(e[0])} width={x(e[1]) - x(e[0])} y={1329.3} height={7.9} fill={READ} />
      ))}
      {brainMarks.map((m: any) => (
        <rect key={m[0]} x={x(m[0])} width={1.6} y={1329.3} height={7.9} fill={m[1]} />
      ))}

      <T x={1165.8} y={1391.4} anchor="end" fill={LIGHT}>Fat body &amp; ovary</T>
      <T x={1165.8} y={1413} anchor="end" fill={LIGHT}>Iso-Seq reads</T>
      <T x={1213} y={1401} anchor="middle" size={18.5} fill="#aaa">( - )</T>
      {fatReads.map((exons, r) => {
        const ry = fatY(r) as number;
        const bw = fatY.bandwidth();
        const end = exons[exons.length - 1][1];
        return (
          <g key={r}>
            <L x1={x(exons[0][0])} x2={x(end)} y1={ry + bw / 2} y2={ry + bw / 2} c={INTRON} w={1.6} />
            {exons.map((e) => (
              <rect key={e[0]} x={x(e[0])} width={x(e[1]) - x(e[0])} y={ry} height={bw + 0.4} fill={READ} />
            ))}
          </g>
        );
      })}
      {fatMarks.map((m: any, i) => (
        <rect key={i} x={x(m[0])} width={m[2] === '#7b2fb0' || m[2] === '#33449a' ? 3 : 1.6} y={(fatY(m[1]) as number) + 0.4} height={fatY.bandwidth() - 0.6} fill={m[2]} />
      ))}

      <T x={1166.4} y={1485} anchor="end" fill="#555">HSAL50</T>
      {geneModels50.map((m, i) => gene(m, [1463.7, 1482.5][i], '#555'))}
      <T x={1164.5} y={1560} anchor="end">HSAL51</T>
      {geneModels51.map((m, i) => gene(m, [1529.5, 1552.5][i], '#0a0a0a'))}
      <L x1={x(1058.89)} x2={x(1058.89)} y1={1524} y2={1535} c="#000" w={1.8} />
      <T x={1652} y={1585} anchor="middle">egh</T>

      <rect x={1270} y={1098} width={232} height={476} fill="none" stroke={RED} strokeWidth={2.8} />
    </g>
  );
};

const panelLetters = [
  ['A', -1, 37], ['B', 495, 37], ['C', 915, 37], ['D', 2, 480], ['E', 538, 480],
  ['F', 1116, 481], ['G', 1507, 481], ['H', 0, 1035], ['I', 946, 1034],
];

export default function App() {
  return (
    <svg width={1946} height={1590} viewBox="0 0 1946 1590" style={{ position: 'absolute', left: 0, top: 0, background: '#fff' }}>
      <PanelA />
      <PanelB />
      <PanelC />
      <PanelD />
      <PanelE />
      <PanelF />
      <PanelG />
      <PanelH />
      <PanelI />
      {panelLetters.map((p) => (
        <T key={p[0] as string} x={p[1]} y={p[2]} size={50} weight="bold" fill="#000">{p[0]}</T>
      ))}
    </svg>
  );
}
